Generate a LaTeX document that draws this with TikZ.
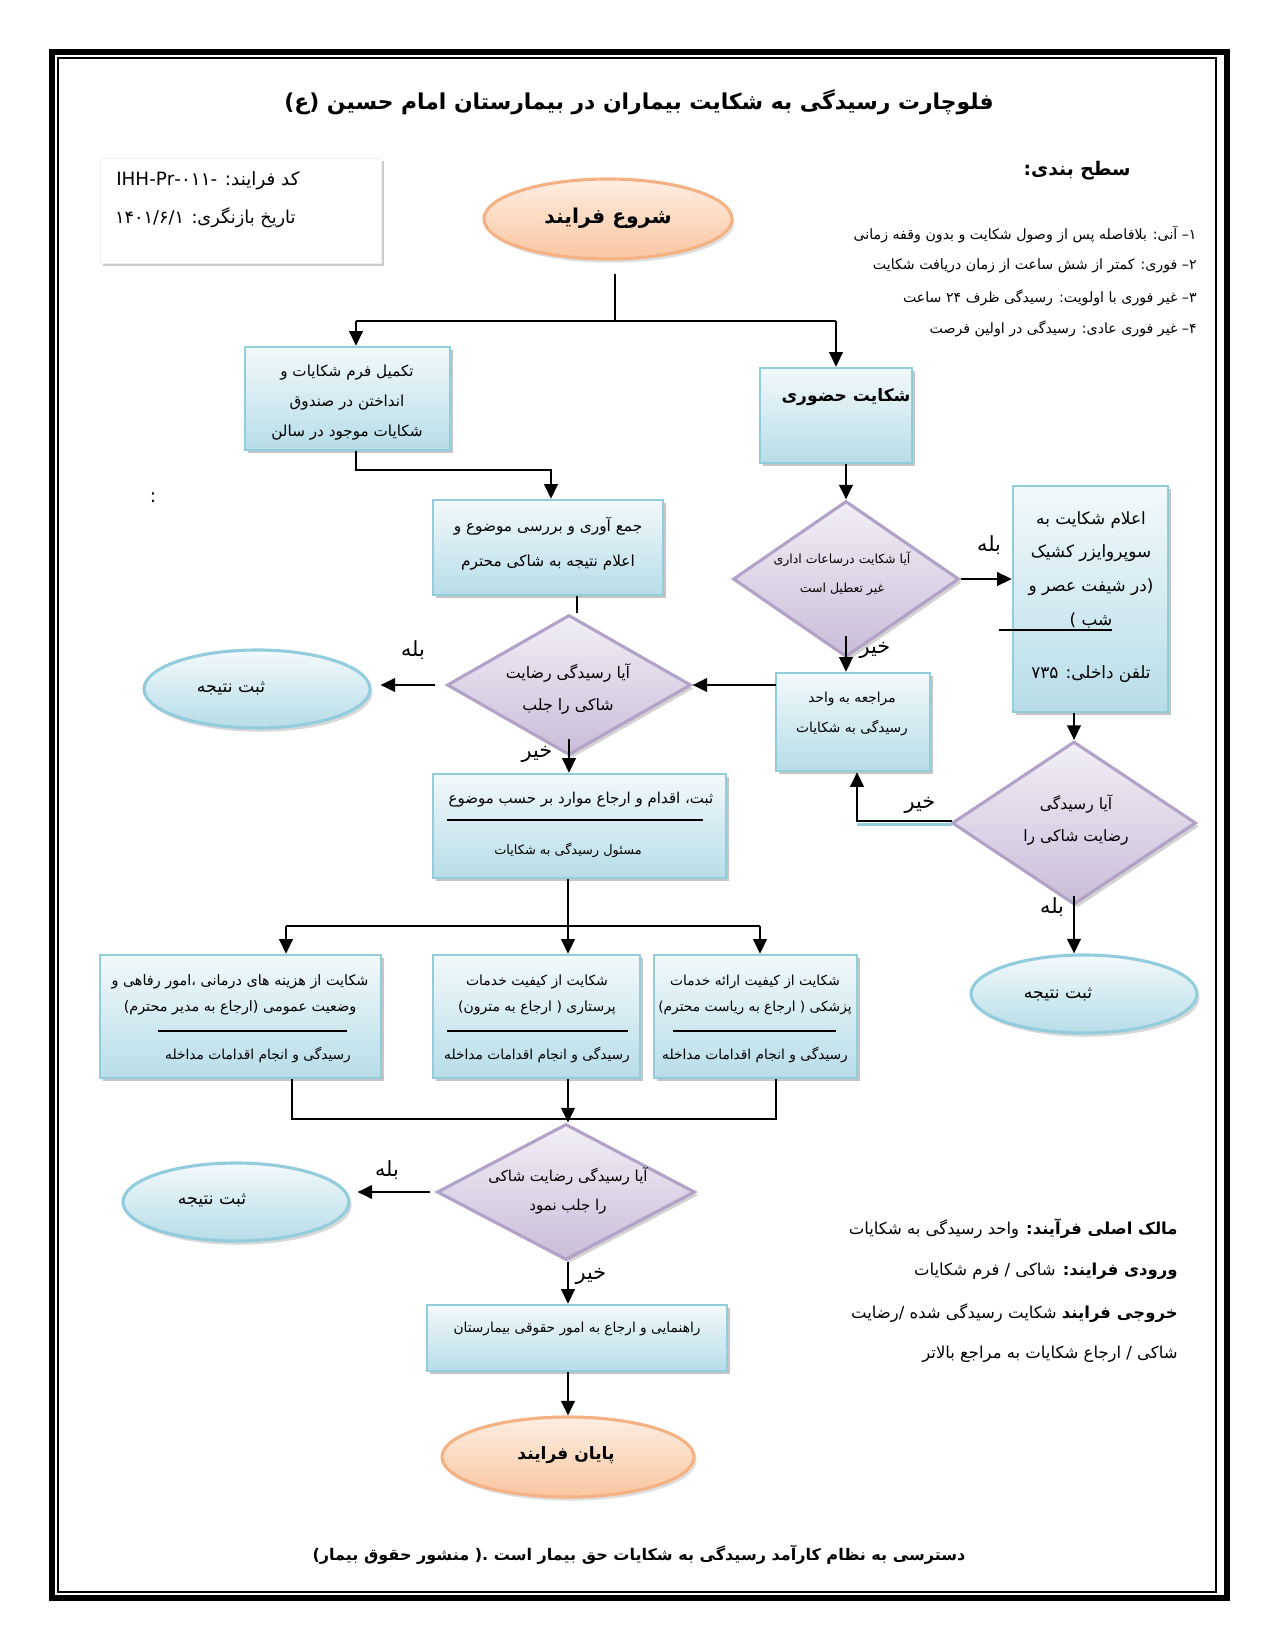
\documentclass[tikz,border=0pt]{standalone}
\usepackage{fontspec}
\usetikzlibrary{shapes.geometric,shadows,arrows.meta,calc}
\setmainfont{DejaVu Sans}
\newfontfamily\fa[Script=Arabic]{DejaVu Sans}
\TeXXeTstate=1
\newcommand\RL[1]{\beginR #1\endR}
\definecolor{boxline}{HTML}{93CDDD}
\definecolor{boxtop}{HTML}{F2F9FB}
\definecolor{boxbot}{HTML}{B7DDE8}
\definecolor{dialine}{HTML}{B3A2C7}
\definecolor{diatop}{HTML}{F2EFF6}
\definecolor{diabot}{HTML}{C9BDD9}
\definecolor{peachline}{HTML}{F4B183}
\definecolor{peachtop}{HTML}{FDEEE2}
\definecolor{peachbot}{HTML}{FAC6A0}
\tikzset{
  bx/.style={draw=boxline, line width=1.2pt, top color=boxtop, bottom color=boxbot,
    drop shadow={shadow xshift=1.6pt, shadow yshift=-1.6pt, fill=black!45}, inner sep=0pt},
  dia/.style={diamond, draw=dialine, line width=1.5pt, top color=diatop, bottom color=diabot,
    drop shadow={shadow xshift=1.6pt, shadow yshift=-1.6pt, fill=black!35}, inner sep=0pt},
  bell/.style={ellipse, draw=boxline, line width=1.5pt, top color=boxtop, bottom color=boxbot,
    drop shadow={shadow xshift=1.2pt, shadow yshift=-1.8pt, fill=black!30}, inner sep=0pt},
  pell/.style={ellipse, draw=peachline, line width=1.5pt, top color=peachtop, bottom color=peachbot,
    drop shadow={shadow xshift=1.2pt, shadow yshift=-1.8pt, fill=black!25}, inner sep=0pt},
  txt/.style={font=\fa\fontsize{7.3}{14.4}\selectfont, align=center, inner sep=0pt},
  lbl/.style={font=\fa\fontsize{10}{12}\selectfont, inner sep=0pt},
  ln/.style={draw, line width=1.1pt},
  arr/.style={draw, line width=1.1pt, -{Triangle[length=7pt,width=6.5pt]}},
}
\begin{document}
\begin{tikzpicture}[x=0.48pt,y=-0.48pt]
\useasboundingbox (0,0) rectangle (1275,1650);
% page frame
\draw[line width=2.9pt] (52,52) rectangle (1227,1598);
\draw[line width=1.2pt] (58,58) rectangle (1216,1592);

% title
\node[font=\fa\bfseries\fontsize{10.5}{13}\selectfont, inner sep=0pt] (title) at (639,102)
  {\RL{فلوچارت رسیدگی به شکایت بیماران در بیمارستان امام حسین (ع)}};

% info box
\node[draw=black!6, fill=white, drop shadow={shadow xshift=1.4pt, shadow yshift=-1.4pt, fill=black!40},
  minimum width=281*0.48pt, minimum height=105*0.48pt, inner sep=0pt] (info) at (240.5,210.5) {};
\node[font=\fa\fontsize{8.8}{11}\selectfont, anchor=east, inner sep=0pt] (code) at (300,181)
  {\RL{کد فرایند: \beginL IHH-Pr-۰۱۱-\endL}};
\node[font=\fa\fontsize{8.5}{11}\selectfont, anchor=east, inner sep=0pt] (date) at (296,218)
  {\RL{تاریخ بازنگری: \beginL ۱۴۰۱/۶/۱\endL}};

% levels
\node[font=\fa\bfseries\fontsize{9}{11}\selectfont, anchor=east, inner sep=0pt] (lvl) at (1131,171) {\RL{سطح بندی:}};
\node[font=\fa\fontsize{6.8}{9}\selectfont, anchor=east, inner sep=0pt] (l1) at (1197,235) {\RL{۱– آنی: بلافاصله پس از وصول شکایت و بدون وقفه زمانی}};
\node[font=\fa\fontsize{6.8}{9}\selectfont, anchor=east, inner sep=0pt] (l2) at (1197,266) {\RL{۲– فوری: کمتر از شش ساعت از زمان دریافت شکایت}};
\node[font=\fa\fontsize{6.8}{9}\selectfont, anchor=east, inner sep=0pt] (l3) at (1197,298) {\RL{۳– غیر فوری با اولویت: رسیدگی ظرف ۲۴ ساعت}};
\node[font=\fa\fontsize{6.8}{9}\selectfont, anchor=east, inner sep=0pt] (l4) at (1197,329) {\RL{۴– غیر فوری عادی: رسیدگی در اولین فرصت}};

% start
\node[pell, minimum width=248*0.48pt, minimum height=80*0.48pt] (start) at (608,219) {};
\node[font=\fa\bfseries\fontsize{9.8}{12}\selectfont, inner sep=0pt] (starttxt) at (608,218) {\RL{شروع فرایند}};

% boxes
\node[bx, minimum width=205*0.48pt, minimum height=103*0.48pt] (b1) at (347.5,398.5) {};
\node[txt] (t1) at (347,403) {\RL{تکمیل فرم شکایات و}\\\RL{انداختن در صندوق}\\\RL{شکایات موجود در سالن}};

\node[bx, minimum width=152*0.48pt, minimum height=95*0.48pt] (b2) at (836,415.5) {};
\node[font=\fa\bfseries\fontsize{8.2}{10}\selectfont, inner sep=0pt] (t2) at (846,397) {\RL{شکایت حضوری}};

\node[bx, minimum width=230*0.48pt, minimum height=95*0.48pt] (b3) at (548,547.5) {};
\node[txt, font=\fa\fontsize{7.35}{16.8}\selectfont] (t3) at (548,543.5) {\RL{جمع آوری و بررسی موضوع و}\\\RL{اعلام نتیجه به شاکی محترم}};

\node[dia, minimum width=226*0.48pt, minimum height=156*0.48pt] (d1) at (846,579) {};
\node[txt, font=\fa\fontsize{6}{14}\selectfont] (td1) at (842,574) {\RL{آیا شکایت درساعات اداری}\\\RL{غیر تعطیل است}};

\node[bx, minimum width=155*0.48pt, minimum height=226*0.48pt] (b4) at (1090.5,599) {};
\node[txt, font=\fa\fontsize{8.1}{16.3}\selectfont] (t4a) at (1091,570) {\RL{اعلام شکایت به}\\\RL{سوپروایزر کشیک}\\\RL{(در شیفت عصر و}\\\RL{شب )}};
\node[txt, font=\fa\fontsize{8.1}{16.3}\selectfont] (t4b) at (1091,674) {\RL{تلفن داخلی: ۷۳۵}};
\draw[line width=0.8pt] (999,630) -- (1112,630);

\node[bx, minimum width=154*0.48pt, minimum height=98*0.48pt] (b5) at (853,722) {};
\node[txt, font=\fa\fontsize{6.6}{14}\selectfont] (t5) at (852,714) {\RL{مراجعه به واحد}\\\RL{رسیدگی به شکایات}};

\node[dia, minimum width=244*0.48pt, minimum height=140*0.48pt] (d2) at (569,685) {};
\node[txt, font=\fa\fontsize{7.6}{15}\selectfont] (td2) at (568,689) {\RL{آیا رسیدگی رضایت}\\\RL{شاکی را جلب}};

\node[bell, minimum width=226*0.48pt, minimum height=78*0.48pt] (e1) at (257,689) {};
\node[txt, font=\fa\fontsize{8.3}{11}\selectfont] (te1) at (231,688) {\RL{ثبت نتیجه}};

\node[bx, minimum width=293*0.48pt, minimum height=104*0.48pt] (b6) at (579.5,826) {};
\node[txt, font=\fa\fontsize{7.2}{11}\selectfont] (t6a) at (581,800) {\RL{ثبت، اقدام و ارجاع موارد بر حسب موضوع}};
\draw[line width=0.8pt] (447,820) -- (703,820);
\node[txt, font=\fa\fontsize{6.2}{9}\selectfont] (t6b) at (568,850) {\RL{مسئول رسیدگی به شکایات}};

\node[dia, minimum width=244*0.48pt, minimum height=163*0.48pt] (d4) at (1074,823) {};
\node[txt, font=\fa\fontsize{7.5}{15}\selectfont] (td4) at (1076,820) {\RL{آیا رسیدگی}\\\RL{رضایت شاکی را}};

\node[bell, minimum width=226*0.48pt, minimum height=78*0.48pt] (e4) at (1084,994) {};
\node[txt, font=\fa\fontsize{8.3}{11}\selectfont] (te4) at (1058,994) {\RL{ثبت نتیجه}};

% three category boxes
\node[bx, minimum width=281*0.48pt, minimum height=123*0.48pt] (b7) at (240.5,1016.5) {};
\node[txt, font=\fa\fontsize{6.9}{12.5}\selectfont] (t7a) at (240,995) {\RL{شکایت از هزینه های درمانی ،امور رفاهی و}\\\RL{وضعیت عمومی (ارجاع به مدیر محترم)}};
\draw[line width=0.9pt] (158,1031) -- (347,1031);
\node[txt, font=\fa\fontsize{6.6}{10}\selectfont] (t7b) at (258,1055) {\RL{رسیدگی و  انجام اقدامات مداخله}};

\node[bx, minimum width=207*0.48pt, minimum height=123*0.48pt] (b8) at (536.5,1016.5) {};
\node[txt, font=\fa\fontsize{6.7}{12.5}\selectfont] (t8a) at (537,995) {\RL{شکایت از کیفیت خدمات}\\\RL{پرستاری ( ارجاع به مترون)}};
\draw[line width=0.9pt] (447,1031) -- (628,1031);
\node[txt, font=\fa\fontsize{6.6}{10}\selectfont] (t8b) at (537,1055) {\RL{رسیدگی و انجام اقدامات مداخله}};

\node[bx, minimum width=203*0.48pt, minimum height=123*0.48pt] (b9) at (755.5,1016.5) {};
\node[txt, font=\fa\fontsize{6.6}{12.5}\selectfont] (t9a) at (755,995) {\RL{شکایت از کیفیت ارائه خدمات}\\\RL{پزشکی ( ارجاع به ریاست محترم)}};
\draw[line width=0.9pt] (673,1031) -- (836,1031);
\node[txt, font=\fa\fontsize{6.6}{10}\selectfont] (t9b) at (755,1055) {\RL{رسیدگی و انجام اقدامات مداخله}};

\node[dia, minimum width=258*0.48pt, minimum height=136*0.48pt] (d3) at (566,1192) {};
\node[txt, font=\fa\fontsize{7.2}{14}\selectfont] (td3) at (568,1191) {\RL{آیا رسیدگی رضایت شاکی}\\\RL{را جلب نمود}};

\node[bell, minimum width=226*0.48pt, minimum height=78*0.48pt] (e3) at (236,1202) {};
\node[txt, font=\fa\fontsize{8.3}{11}\selectfont] (te3) at (212,1200) {\RL{ثبت نتیجه}};

\node[bx, minimum width=300*0.48pt, minimum height=66*0.48pt] (b10) at (577,1338) {};
\node[txt, font=\fa\fontsize{6.6}{10}\selectfont] (t10) at (577,1329) {\RL{راهنمایی و ارجاع به امور حقوقی بیمارستان}};

\node[pell, minimum width=252*0.48pt, minimum height=80*0.48pt] (end) at (568,1457) {};
\node[font=\fa\bfseries\fontsize{8.2}{10}\selectfont, inner sep=0pt] (endtxt) at (566,1455) {\RL{پایان فرایند}};

% side notes
\node[font=\fa\fontsize{7.9}{10}\selectfont, anchor=east, inner sep=0pt] (o1) at (1178,1229) {\RL{{\bfseries مالک اصلی فرآیند:} واحد رسیدگی به شکایات}};
\node[font=\fa\fontsize{7.9}{10}\selectfont, anchor=east, inner sep=0pt] (o2) at (1178,1271) {\RL{{\bfseries ورودی فرایند:}  شاکی / فرم شکایات}};
\node[font=\fa\fontsize{7.9}{10}\selectfont, anchor=east, inner sep=0pt] (o3) at (1178,1313) {\RL{{\bfseries خروجی فرایند} شکایت رسیدگی شده /رضایت}};
\node[font=\fa\fontsize{7.9}{10}\selectfont, anchor=east, inner sep=0pt] (o4) at (1178,1354) {\RL{شاکی / ارجاع شکایات به مراجع بالاتر}};

\node[font=\fa\bfseries\fontsize{7.7}{10}\selectfont, inner sep=0pt] (foot) at (639,1555)
  {\RL{دسترسی به نظام کارآمد رسیدگی به شکایات حق بیمار است .( منشور حقوق بیمار)}};
\node[font=\fontsize{9}{11}\selectfont, inner sep=0pt] (colon) at (153,498) {:};

% labels
\node[lbl] (y1) at (989,545) {\RL{بله}};
\node[lbl] (n1l) at (875,650) {\RL{خیر}};
\node[lbl] (y2) at (413,650) {\RL{بله}};
\node[lbl] (n2l) at (537,754) {\RL{خیر}};
\node[lbl] (n4l) at (920,805) {\RL{خیر}};
\node[lbl] (y4) at (1052,907) {\RL{بله}};
\node[lbl] (y3) at (387,1170) {\RL{بله}};
\node[lbl] (n3l) at (591,1276) {\RL{خیر}};

% connectors
\coordinate (s0) at (615,274);
\coordinate (sp) at (615,321);
\coordinate (sL) at (356,321);
\coordinate (sR) at (836,321);
\draw[ln] (s0) -- (sp);
\draw[ln] (sL) -- (sR);
\draw[arr] (sL) -- (sL |- b1.north);
\draw[arr] (sR) -- (sR |- b2.north);

\coordinate (k1) at (551,470);
\draw[arr] (b1.south -| sL) |- (k1) -- (k1 |- b3.north);

\coordinate (k2) at (577,600);
\draw[ln] (b3.south -| k2) -- (k2 |- d2.north);

\draw[arr] (b2.south -| d1.north) -- (d1.north);
\draw[arr] (d1.east) -- (d1.east -| b4.west);
\coordinate (d1b) at ($(d1.south)+(0,-23)$);
\draw[arr] (d1b) -- (d1b |- b5.north);

\coordinate (k5) at (776,685);
\draw[arr] (k5) -- (k5 -| d2.east);
\coordinate (a2s) at ($(d2.west)+(-10,0)$);
\coordinate (a2e) at ($(a2s -| e1.east)+(9,0)$);
\draw[arr] (a2s) -- (a2e);
\coordinate (d2b) at ($(d2.south)+(0,-18)$);
\draw[arr] (d2b) -- (d2b |- b6.north);

\draw[arr] (b4.south -| d4.north) -- (d4.north);
\coordinate (k4) at (857,821);
\coordinate (k4w) at (952,821);
\draw[boxline, line width=1.4pt] ($(k4w)+(0,3.5)$) -- ($(k4)+(0,3.5)$);
\draw[arr] (k4w) -- (k4) -- (k4 |- b5.south);
\coordinate (d4b) at ($(d4.south)+(0,-10)$);
\draw[arr] (d4b) -- (d4b |- e4.north);

\coordinate (k6) at (568,926);
\coordinate (m1) at (286,926);
\coordinate (m3) at (760,926);
\draw[ln] (b6.south -| k6) -- (k6);
\draw[ln] (m1) -- (m3);
\draw[arr] (m1) -- (m1 |- b7.north);
\draw[arr] (k6) -- (k6 |- b8.north);
\draw[arr] (m3) -- (m3 |- b9.north);

\coordinate (q1) at (292,1119);
\coordinate (q2) at (568,1119);
\coordinate (q3) at (776,1119);
\draw[ln] (b7.south -| q1) -- (q1) -- (q3) -- (b9.south -| q3);
\draw[ln] (b8.south -| q2) -- (q2);
\draw[arr] (q2) -- (q2 |- d3.north);

\coordinate (a3s) at ($(d3.west)+(-5,0)$);
\coordinate (a3e) at ($(a3s -| e3.east)+(7,0)$);
\draw[arr] (a3s) -- (a3e);
\draw[arr] (d3.south -| q2) -- (q2 |- b10.north);
\draw[arr] (b10.south -| q2) -- (q2 |- end.north);
\end{tikzpicture}
\end{document}
